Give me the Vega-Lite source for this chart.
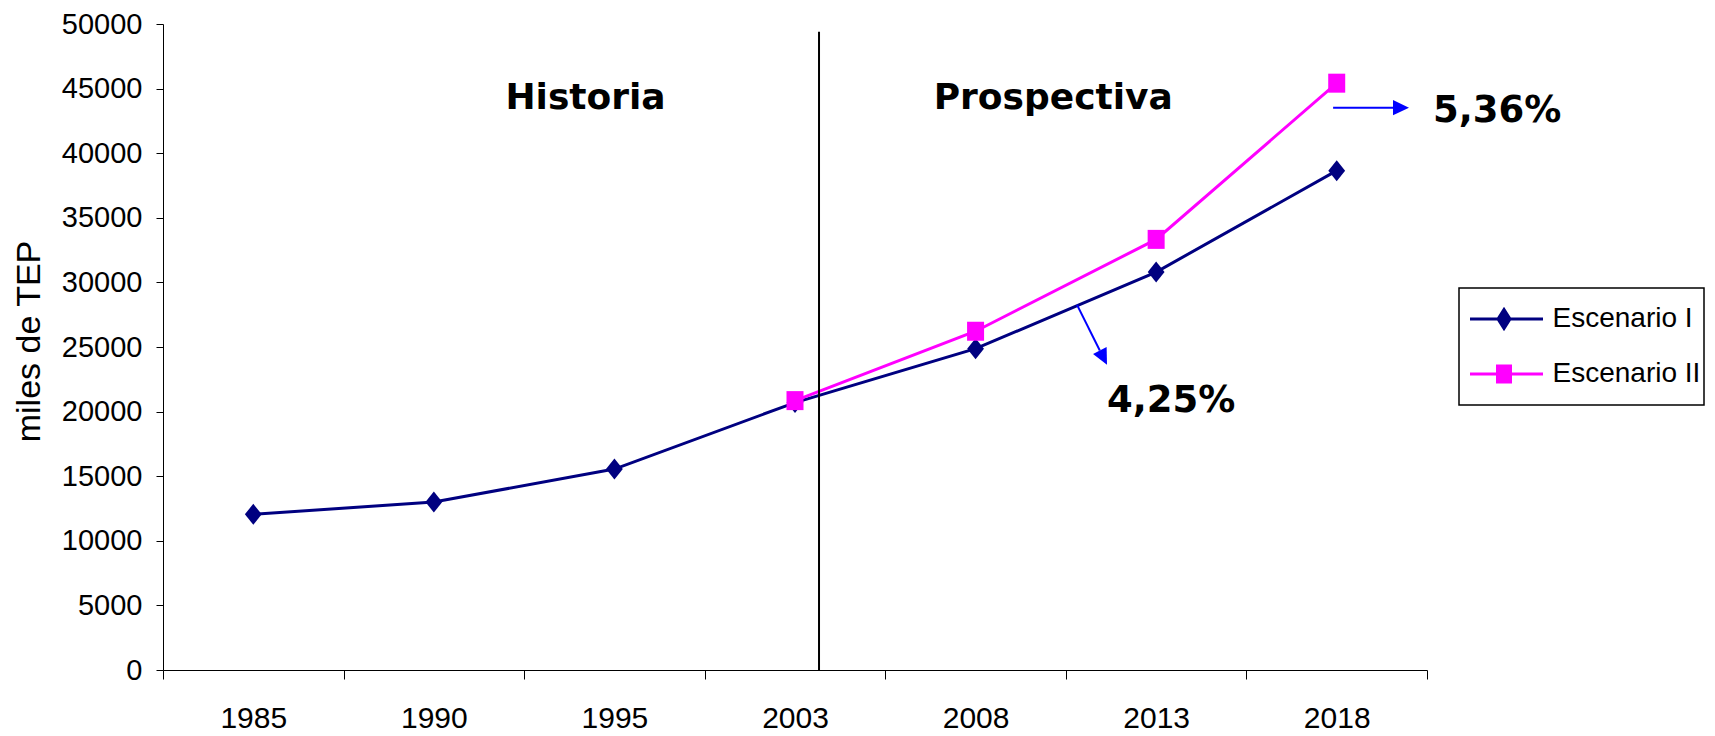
{
  "$schema": "https://vega.github.io/schema/vega-lite/v6.json",
  "width": 1264,
  "height": 646,
  "autosize": {"type": "none"},
  "padding": {"left": 163, "top": 24, "right": 288, "bottom": 66},
  "background": "white",
  "config": {
    "view": {"stroke": null},
    "font": "'Liberation Sans', Arial, sans-serif"
  },
  "datasets": {
    "series": [
      {"year": "1985", "serie": "Escenario I", "value": 12050},
      {"year": "1990", "serie": "Escenario I", "value": 13000},
      {"year": "1995", "serie": "Escenario I", "value": 15550},
      {"year": "2003", "serie": "Escenario I", "value": 20700},
      {"year": "2008", "serie": "Escenario I", "value": 24870},
      {"year": "2013", "serie": "Escenario I", "value": 30800},
      {"year": "2018", "serie": "Escenario I", "value": 38650},
      {"year": "2003", "serie": "Escenario II", "value": 20850},
      {"year": "2008", "serie": "Escenario II", "value": 26220},
      {"year": "2013", "serie": "Escenario II", "value": 33330},
      {"year": "2018", "serie": "Escenario II", "value": 45420}
    ],
    "periods": [
      {"label": "Historia", "xi": 2.34, "value": 43440},
      {"label": "Prospectiva", "xi": 4.93, "value": 43440}
    ],
    "rates": [
      {"label": "5,36%", "xi": 7.033, "value": 42435},
      {"label": "4,25%", "xi": 5.228, "value": 19978}
    ],
    "divider": [{"xi": 3.633, "value": 49400, "value2": 0}],
    "arrows": [
      {"xi": 6.48, "xi2": 6.85, "value": 43520, "value2": 43520},
      {"xi": 5.062, "xi2": 5.188, "value": 28264, "value2": 24725}
    ],
    "headH": [{"xi": 6.856, "value": 43520}],
    "headD": [{"xi": 5.208, "value": 24175}]
  },
  "layer": [
    {
      "data": {"name": "series"},
      "layer": [
        {
          "mark": {"type": "line", "strokeWidth": 3},
          "encoding": {
            "x": {
              "field": "year", "type": "ordinal",
              "scale": {"type": "band", "paddingInner": 0, "paddingOuter": 0},
              "axis": {
                "title": null, "tickBand": "extent", "labelAngle": 0,
                "tickSize": 9, "labelPadding": 24, "labelFontSize": 30,
                "labelColor": "black", "domainColor": "black", "tickColor": "black",
                "grid": false
              }
            },
            "y": {
              "field": "value", "type": "quantitative",
              "scale": {"domain": [0, 50000], "nice": false},
              "axis": {
                "title": "miles de TEP", "titleFontSize": 34, "titleFontWeight": "normal",
                "titleColor": "black", "titlePadding": 22, "titleBaseline": "alphabetic",
                "titleY": 317,
                "values": [0, 5000, 10000, 15000, 20000, 25000, 30000, 35000, 40000, 45000, 50000],
                "format": "d", "tickSize": 7, "labelPadding": 14, "labelFontSize": 29,
                "labelColor": "black", "domainColor": "black", "tickColor": "black",
                "grid": false
              }
            },
            "color": {
              "field": "serie", "type": "nominal",
              "scale": {"domain": ["Escenario I", "Escenario II"], "range": ["#000080", "#FF00FF"]},
              "legend": {
                "orient": "none", "legendX": 1296, "legendY": 264,
                "title": null, "padding": 3.5,
                "strokeColor": "black", "fillColor": "white",
                "symbolType": "square", "clipHeight": 55,
                "symbolSize": 3025, "labelOffset": 32, "rowPadding": 0,
                "labelFontSize": 28, "labelColor": "black", "labelLimit": 400,
                "labelFont": "'Liberation Sans', Arial, sans-serif",
                "encode": {
                  "legend": {"update": {"strokeWidth": {"value": 1.5}}},
                  "symbols": {
                    "update": {
                      "shape": {"signal": "datum.value === 'Escenario I' ? 'M-0.782,0H1.873M0.455,-0.345L0.673,0L0.455,0.345L0.237,0Z' : 'M-0.782,0H1.873M0.219,-0.29H0.691V0.29H0.219Z'"},
                      "fill": {"signal": "datum.value === 'Escenario I' ? '#000080' : '#FF00FF'"},
                      "stroke": {"signal": "datum.value === 'Escenario I' ? '#000080' : '#FF00FF'"},
                      "strokeWidth": {"value": 3},
                      "size": {"value": 3025},
                      "opacity": {"value": 1},
                      "fillOpacity": {"value": 1}
                    }
                  }
                }
              }
            }
          }
        },
        {
          "transform": [{"filter": "datum.serie === 'Escenario I'"}],
          "mark": {"type": "point", "filled": true, "opacity": 1, "color": "#000080", "size": 400, "shape": "M0,-1.05L0.84,0L0,1.05L-0.84,0Z"},
          "encoding": {
            "x": {"field": "year", "type": "ordinal"},
            "y": {"field": "value", "type": "quantitative"}
          }
        },
        {
          "transform": [{"filter": "datum.serie === 'Escenario II'"}],
          "mark": {"type": "point", "filled": true, "opacity": 1, "color": "#FF00FF", "size": 400, "shape": "M-0.85,-0.95H0.85V0.95H-0.85Z"},
          "encoding": {
            "x": {"field": "year", "type": "ordinal"},
            "y": {"field": "value", "type": "quantitative"}
          }
        }
      ]
    },
    {
      "layer": [
        {
          "data": {"name": "divider"},
          "mark": {"type": "rule", "color": "black", "strokeWidth": 2},
          "encoding": {
            "x": {"field": "xi", "type": "quantitative", "scale": {"domain": [0, 7], "nice": false, "zero": false}, "axis": null},
            "y": {"field": "value", "type": "quantitative"},
            "y2": {"field": "value2"}
          }
        },
        {
          "data": {"name": "arrows"},
          "mark": {"type": "rule", "color": "#0000FF", "strokeWidth": 2},
          "encoding": {
            "x": {"field": "xi", "type": "quantitative", "axis": null},
            "x2": {"field": "xi2"},
            "y": {"field": "value", "type": "quantitative"},
            "y2": {"field": "value2"}
          }
        },
        {
          "data": {"name": "headH"},
          "mark": {"type": "point", "filled": true, "opacity": 1, "color": "#0000FF", "size": 256, "shape": "M1,0L-1,-0.95L-1,0.95Z", "angle": 0},
          "encoding": {
            "x": {"field": "xi", "type": "quantitative", "axis": null},
            "y": {"field": "value", "type": "quantitative"}
          }
        },
        {
          "data": {"name": "headD"},
          "mark": {"type": "point", "filled": true, "opacity": 1, "color": "#0000FF", "size": 256, "shape": "M1,0L-1,-0.95L-1,0.95Z", "angle": 63.4},
          "encoding": {
            "x": {"field": "xi", "type": "quantitative", "axis": null},
            "y": {"field": "value", "type": "quantitative"}
          }
        },
        {
          "data": {"name": "periods"},
          "mark": {"type": "text", "font": "'DejaVu Sans', Verdana, sans-serif", "fontWeight": "bold", "fontSize": 36, "align": "center", "baseline": "alphabetic", "color": "black"},
          "encoding": {
            "x": {"field": "xi", "type": "quantitative", "axis": null},
            "y": {"field": "value", "type": "quantitative"},
            "text": {"field": "label"}
          }
        },
        {
          "data": {"name": "rates"},
          "mark": {"type": "text", "font": "'DejaVu Sans', Verdana, sans-serif", "fontWeight": "bold", "fontSize": 37, "align": "left", "baseline": "alphabetic", "color": "black"},
          "encoding": {
            "x": {"field": "xi", "type": "quantitative", "axis": null},
            "y": {"field": "value", "type": "quantitative"},
            "text": {"field": "label"}
          }
        }
      ]
    }
  ],
  "resolve": {"scale": {"x": "independent"}}
}
